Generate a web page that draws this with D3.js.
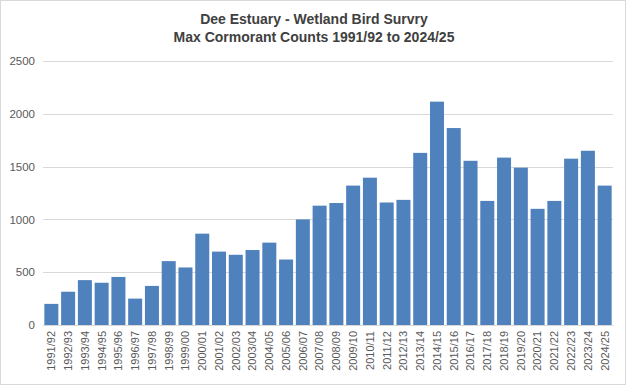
<!DOCTYPE html>
<html>
<head>
<meta charset="utf-8">
<script src="https://cdn.jsdelivr.net/npm/d3@7"></script>
<style>
  body { margin: 0; background: #fff; }
  svg { display: block; font-family: "Liberation Sans", Arial, sans-serif; }
</style>
</head>
<body>
<svg id="chart" width="628" height="387"></svg>
<script>
// seasons on the x axis
var seasons = ["1991/92","1992/93","1993/94","1994/95","1995/96","1996/97","1997/98","1998/99",
  "1999/00","2000/01","2001/02","2002/03","2003/04","2004/05","2005/06","2006/07","2007/08",
  "2008/09","2009/10","2010/11","2011/12","2012/13","2013/14","2014/15","2015/16","2016/17",
  "2017/18","2018/19","2019/20","2020/21","2021/22","2022/23","2023/24","2024/25"];

// max cormorant counts
var counts = [200, 315, 425, 400, 455, 250, 370, 605, 545, 865, 695, 665, 710, 780, 620, 1000, 1130,
  1155, 1320, 1395, 1160, 1185, 1630, 2115, 1865, 1555, 1175, 1585, 1490, 1100, 1175, 1575, 1650, 1320];

var yTicks = [0, 500, 1000, 1500, 2000, 2500];
var titleLines = ["Dee Estuary - Wetland Bird Survry", "Max Cormorant Counts 1991/92 to 2024/25"];

var svg = d3.select("#chart");
var width = 628, height = 387;
var margin = {top: 61, right: 15, bottom: 62, left: 43};

// outer border like the excel chart area
svg.append("rect")
  .attr("x", 0.5).attr("y", 0.5)
  .attr("width", width - 3).attr("height", height - 3)
  .attr("fill", "#fff")
  .attr("stroke", "#d9d9d9");

var x = d3.scaleBand()
  .domain(seasons)
  .range([margin.left, width - margin.right])
  .paddingInner(0.165)
  .paddingOuter(0.08);

var y = d3.scaleLinear()
  .domain([0, 2500])
  .range([height - margin.bottom, margin.top]);

// gridlines
svg.append("g")
  .selectAll("line")
  .data(yTicks)
  .join("line")
  .attr("x1", margin.left).attr("x2", width - margin.right)
  .attr("y1", function(d) { return Math.round(y(d)) + 0.5; })
  .attr("y2", function(d) { return Math.round(y(d)) + 0.5; })
  .attr("stroke", "#d9d9d9");

// y axis labels, no thousands separator
var yAxis = d3.axisLeft(y).tickValues(yTicks).tickFormat(d3.format("d")).tickSize(0).tickPadding(8);
var gy = svg.append("g")
  .attr("transform", "translate(" + margin.left + ",0)")
  .call(yAxis);
gy.select(".domain").remove();
gy.selectAll("text")
  .attr("fill", "#595959")
  .style("font-size", "11.5px");

// bars
svg.append("g")
  .selectAll("rect")
  .data(counts)
  .join("rect")
  .attr("x", function(d, i) { return x(seasons[i]); })
  .attr("width", x.bandwidth())
  .attr("y", function(d) { return y(d); })
  .attr("height", function(d) { return y(0) - y(d); })
  .attr("fill", "#4f81bd");

// x axis
var xAxis = d3.axisBottom(x).tickSize(0).tickPadding(0);
var gx = svg.append("g")
  .attr("transform", "translate(0," + y(0) + ")")
  .call(xAxis);
gx.select(".domain").attr("stroke", "#d9d9d9");
gx.selectAll("text")
  .attr("fill", "#595959")
  .style("font-size", "11px")
  .attr("transform", "rotate(-90)")
  .attr("text-anchor", "end")
  .attr("x", -6)
  .attr("y", 0)
  .attr("dy", "0.35em");

// title
svg.append("g")
  .selectAll("text")
  .data(titleLines)
  .join("text")
  .attr("x", width / 2)
  .attr("y", function(d, i) { return 24 + i * 18; })
  .attr("text-anchor", "middle")
  .attr("fill", "#404040")
  .style("font-size", "14px")
  .style("font-weight", "bold")
  .text(function(d) { return d; });
</script>
</body>
</html>
